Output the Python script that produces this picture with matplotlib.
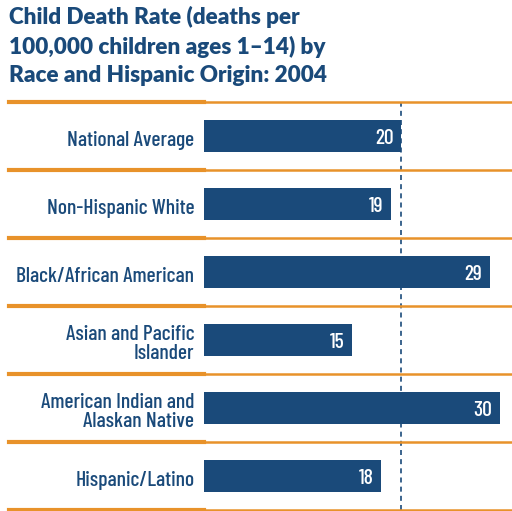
import matplotlib
matplotlib.use("Agg")
import matplotlib.pyplot as plt
from matplotlib.lines import Line2D

# data
categories = ["National Average", "Non-Hispanic White", "Black/African American",
              "Asian and Pacific\nIslander", "American Indian and\nAlaskan Native",
              "Hispanic/Latino"]
rates = [20, 19, 29, 15, 30, 18]
national_avg = 20

BLUE = "#1a4a7a"
ORANGE = "#e8922a"
W, H = 512, 511
LABEL_FONT = ["Barlow Condensed", "Roboto Condensed", "DejaVu Sans"]
TITLE_FONT = ["Lato", "DejaVu Sans"]

fig = plt.figure(figsize=(W / 100, H / 100), dpi=100)
fig.patch.set_facecolor("white")

# axes: x from pixel 204 to 512, y from pixel 102 to 510 (top->bottom)
ax = fig.add_axes([204 / W, (H - 510) / H, (W - 204) / W, 408 / H])
ax.set_xlim(0, 308 / 9.85)
ax.set_ylim(len(categories) - 0.5, -0.5)

pos = list(range(len(categories)))
ax.barh(pos, rates, height=0.47, color=BLUE, zorder=2)

for p, v in zip(pos, rates):
    ax.text(v - 0.75, p + 0.04, str(v), color="white", ha="right", va="center",
            fontsize=15.5, fontweight="medium", family=LABEL_FONT, zorder=3)

ax.axvline(national_avg, color=BLUE, lw=1.2, ls=(0, (3, 2.5)), zorder=1)

ax.set_yticks([p + 0.03 for p in pos])
ax.set_yticklabels(categories, color=BLUE, fontsize=15.5, fontweight="medium",
                   family=LABEL_FONT, linespacing=1.0)
ax.tick_params(axis="y", length=0, pad=7)
ax.set_xticks([])
for s in ax.spines.values():
    s.set_visible(False)
ax.patch.set_alpha(0)

# orange separators: thick on the label side, thin across the bars
for i in range(len(categories) + 1):
    ypix = 102 + 68 * i
    yf = (H - ypix) / H
    fig.add_artist(Line2D([9 / W, 204 / W], [yf, yf], color=ORANGE, lw=3.0))
    fig.add_artist(Line2D([204 / W, 1.0], [yf, yf], color=ORANGE, lw=1.8))

title = "Child Death Rate (deaths per\n100,000 children ages 1\u201314) by\nRace and Hispanic Origin: 2004"
fig.text(9 / W, (H - 6) / H, title, color=BLUE, fontsize=16.2, fontweight="heavy",
         family=TITLE_FONT, ha="left", va="top", linespacing=1.42)

fig.savefig("out.png", dpi=100, facecolor="white")
